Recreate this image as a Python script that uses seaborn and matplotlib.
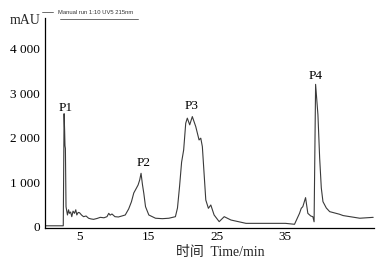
import matplotlib
matplotlib.use("Agg")
import matplotlib.pyplot as plt
from matplotlib.lines import Line2D
from matplotlib.ticker import FuncFormatter
import seaborn as sns
import pandas as pd

# ---- data ----
time_min = [0.0, 2.68, 2.80, 2.88, 2.93, 2.99, 3.08, 3.29, 3.45, 3.58, 3.75, 3.92,
            4.10, 4.31, 4.50, 4.65, 4.85, 5.04, 5.35, 5.63, 6.0, 6.36, 6.7, 7.09,
            7.6, 8.07, 8.6, 9.04, 9.3, 9.5, 9.77, 10.2, 10.7, 11.2, 11.7, 12.2,
            12.6, 12.94, 13.3, 13.57, 13.8, 14.0, 14.2, 14.4, 14.65, 15.13, 16.1,
            17.1, 18.05, 19.0, 19.3, 19.6, 19.9, 20.2, 20.5, 20.73, 21.08, 21.46,
            21.96, 22.44, 22.69, 22.92, 23.17, 23.42, 23.8, 24.15, 24.63, 25.37,
            26.1, 27.08, 29.27, 32.68, 35.0, 36.33, 37.06, 37.31, 37.54, 37.94,
            38.27, 38.7, 39.0, 39.18, 39.40, 39.74, 39.99, 40.23, 40.47, 40.96,
            41.45, 42.87, 43.4, 45.83, 47.78]
absorbance_mAU = [20, 20, 2540, 2150, 1820, 1760, 450, 263, 380, 300, 330, 225,
                  350, 300, 380, 263, 320, 315, 260, 225, 240, 190, 175, 165,
                  185, 210, 200, 225, 300, 260, 285, 225, 218, 240, 263, 400,
                  560, 758, 860, 938, 1050, 1200, 950, 750, 450, 263, 190,
                  180, 190, 225, 420, 900, 1450, 1725, 2325, 2440, 2290, 2475,
                  2250, 1950, 1990, 1800, 1200, 600, 413, 488, 263, 113,
                  225, 150, 75, 75, 75, 54, 300, 413, 450, 653,
                  300, 240, 225, 110, 3200, 2513, 1545, 870, 563, 420,
                  338, 280, 250, 190, 210]

peak_names = ["P1", "P2", "P3", "P4"]
peak_label_time = [3.0, 14.4, 21.4, 39.4]
peak_label_mAU = [2670, 1433, 2715, 3390]

y_ticks = [0, 1000, 2000, 3000, 4000]
x_ticks = [5, 15, 25, 35]
legend_text = "Manual run 1:10 UV5 215nm"
y_unit = "mAU"
x_label = "时间  Time/min"

df = pd.DataFrame({"time": time_min, "abs": absorbance_mAU})

sns.set_style("white")
plt.rcParams["font.family"] = ["Liberation Serif", "Noto Sans CJK SC"]

fig = plt.figure(figsize=(3.9, 2.67), dpi=100)
ax = fig.add_axes([0.115, 0.145, 0.844, 0.789])

sns.lineplot(data=df, x="time", y="abs", ax=ax, color="#3a3a3a",
             linewidth=0.8, estimator=None, sort=False)

ax.set_xlim(0, 47.9)
ax.set_ylim(-36, 4700)
ax.set_xticks(x_ticks)
ax.set_yticks(y_ticks)
ax.yaxis.set_major_formatter(FuncFormatter(lambda v, p: f"{int(v):,}".replace(",", " ")))

for s in ["top", "right"]:
    ax.spines[s].set_visible(False)
for s in ["left", "bottom"]:
    ax.spines[s].set_color("black")
    ax.spines[s].set_linewidth(0.9)

ax.tick_params(axis="x", direction="in", length=3, width=0.6, pad=2,
               labelsize=9.5, colors="black")
ax.tick_params(axis="y", direction="out", length=2, width=0.6, pad=1.5,
               labelsize=9.5, colors="black")

ax.set_ylabel("")
ax.set_xlabel(x_label, fontsize=10, labelpad=3)
ax.xaxis.set_label_coords(0.532, -0.085)

for name, t, a in zip(peak_names, peak_label_time, peak_label_mAU):
    ax.text(t, a, name, ha="center", va="center", fontsize=9.5, color="black")

fig.text(0.064, 0.925, y_unit, ha="center", va="center", fontsize=10)

# legend-like header
fig.add_artist(Line2D([42 / 390, 53 / 390], [1 - 12 / 267, 1 - 12 / 267],
                      color="#555555", linewidth=0.6))
fig.text(58 / 390, 1 - 12 / 267, legend_text, ha="left", va="center",
         fontsize=4.2, family="Liberation Sans", color="#333333")
fig.add_artist(Line2D([60 / 390, 138 / 390], [1 - 19 / 267, 1 - 19 / 267],
                      color="#555555", linewidth=0.6))

fig.savefig("out.png", dpi=100)
